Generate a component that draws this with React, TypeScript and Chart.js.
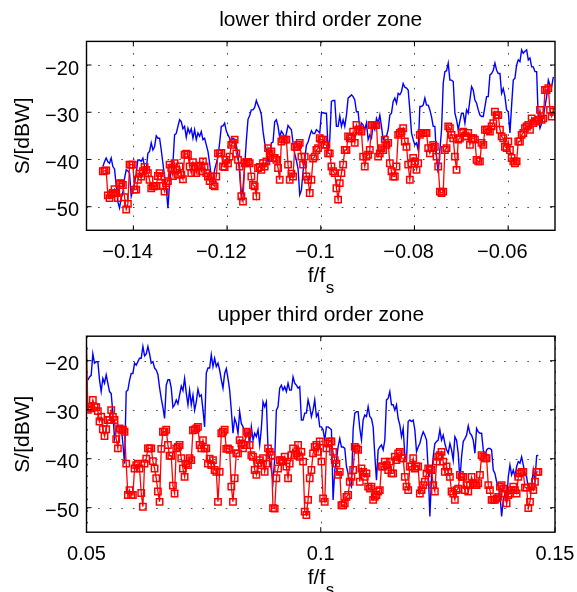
import React, { useEffect, useRef } from 'react';
import { Chart, registerables } from 'chart.js';

Chart.register(...registerables);

// ---------------- data ----------------
const binWidth = 5 / 14040; // spacing of frequency bins (f/fs)

const yRange = [-55, -15];
const yTickValues = [-50, -40, -30, -20];

const lowerTitle = 'lower third order zone';
const lowerXRange = [-0.15, -0.05];
const lowerXTickValues = [-0.14, -0.12, -0.1, -0.08, -0.06];

const upperTitle = 'upper third order zone';
const upperXRange = [0.05, 0.15];
const upperXTickValues = [0.05, 0.1, 0.15];

const yLabel = 'S/[dBW]';

// lower zone, blue trace
const lowerBlueStart = -0.14651;
const lowerBlue = [
  -41.5, -40.5, -39.7, -40.5, -40.8, -39.7, -41.5, -42.0, -45.5, -49.0,
  -50.3, -48.2, -47.0, -44.0, -42.2, -42.4, -42.9, -47.8, -46.4, -45.0,
  -43.0, -40.1, -40.1, -40.4, -39.7, -41.5, -42.2, -38.7, -38.3, -36.5,
  -38.0, -37.3, -35.0, -35.5, -35.5, -38.0, -40.8, -43.6, -46.1, -50.3,
  -45.0, -42.2, -40.8, -34.8, -34.5, -33.0, -31.6, -32.0, -33.5, -33.0,
  -35.3, -33.4, -34.4, -33.5, -35.5, -33.7, -35.8, -34.4, -35.1, -34.1,
  -35.8, -35.5, -36.9, -38.3, -40.8, -43.6, -44.6, -42.2, -40.8, -39.4,
  -36.5, -33.0, -32.9, -32.3, -34.0, -34.8, -35.5, -36.2, -35.5, -35.8,
  -37.0, -39.0, -43.0, -48.0, -46.0, -41.5, -36.0, -31.5, -30.7, -29.5,
  -29.5, -29.0, -27.5, -28.5, -29.3, -30.5, -34.0, -36.5, -38.0, -40.5,
  -39.0, -36.5, -36.3, -32.0, -31.6, -33.0, -35.3, -34.0, -34.5, -35.5,
  -34.5, -32.8, -33.3, -33.7, -36.5, -38.8, -40.2, -42.0, -47.5, -46.5,
  -42.5, -40.0, -37.0, -36.3, -35.0, -33.9, -34.5, -34.5, -33.7, -34.0,
  -34.4,
  -30.1, -30.1, -30.2, -30.2, -38.0, -35.8, -27.7, -27.5, -27.5, -33.0,
  -33.0, -30.8, -33.0, -31.6, -33.0, -30.6, -27.0, -26.7, -26.3, -26.7,
  -27.4, -29.9, -29.9, -33.7, -32.3, -32.7, -33.7, -32.3, -35.8, -34.8,
  -35.5, -32.7, -33.7, -31.3, -32.3, -30.6, -33.0, -35.8, -35.1, -35.1,
  -33.7, -30.6, -30.2, -27.7, -27.0, -28.1, -26.0, -26.3, -25.6, -23.9,
  -24.7, -24.9, -25.3, -29.5, -34.4, -35.8, -36.9, -36.5, -38.0, -28.8,
  -28.8, -28.5, -27.0, -28.5, -28.5, -29.5, -31.0, -33.0, -33.0, -39.7,
  -42.9, -38.0, -33.7, -23.9, -21.4, -21.2, -19.6, -23.2, -23.2, -23.5,
  -30.2, -31.6, -33.7, -31.9, -30.2, -30.2, -32.3, -29.5, -30.2, -27.4,
  -24.6, -25.3, -27.4, -28.1, -29.5, -30.6, -30.9, -30.9, -28.8, -26.7,
  -26.7, -22.1, -21.8, -21.1, -19.6, -21.1, -21.8, -21.8, -26.0, -25.0,
  -26.7, -29.5, -29.9, -34.4, -28.5, -23.2, -22.8, -20.0, -18.9, -19.3,
  -16.8, -17.5, -17.1, -16.8, -18.9, -18.5, -20.4, -20.4, -21.4, -21.4,
  -31.6, -33.4, -32.3, -30.9, -28.8, -26.7, -23.2, -24.3, -24.6, -22.5,
];

// lower zone, red trace with square markers
const lowerRedStart = -0.14651;
const lowerRed = [
  -42.5, -42.4, -42.3, -47.6, -48.2, -47.4, -47.1, -46.3, -47.1, -48.2,
  -45.1, -45.0, -45.4, -48.0, -50.6, -49.4, -41.1, -41.1, -41.1, -46.4,
  -46.4, -44.3, -43.0, -43.6, -42.5, -41.6, -42.2, -42.9, -44.3, -46.1,
  -45.7, -45.7, -45.6, -43.5, -42.9, -43.6, -45.6, -46.8, -45.0, -44.6,
  -41.1, -41.8, -43.5, -40.8, -42.2, -43.2, -41.5, -43.2, -44.2, -39.0,
  -38.8, -39.0, -41.5, -42.9, -40.6, -41.5, -42.9, -41.5, -41.3, -42.5,
  -40.4, -41.5, -42.9, -43.6, -44.6, -43.6, -45.4, -45.7, -43.6, -38.7,
  -38.7, -38.6, -41.5, -41.6, -40.1, -40.8, -39.4, -36.9, -36.5, -35.8,
  -38.7, -40.1, -41.5, -47.8, -48.9, -40.8, -40.5, -40.5, -40.8, -43.6,
  -45.4, -45.7, -47.8, -41.8, -41.6, -42.2, -40.8, -41.5, -40.4, -37.6,
  -38.7, -38.3, -39.7, -39.7, -40.1, -41.8, -44.3, -36.2, -35.7, -35.8,
  -35.8, -41.1, -44.3, -43.0, -43.6, -37.3, -37.4, -36.9, -36.5, -39.4,
  -41.1, -39.4, -43.6, -44.3, -47.1, -44.3, -39.8, -39.4, -38.0, -37.6,
  -35.5,
  -35.8, -35.8, -36.9, -36.9, -38.7, -38.7, -41.5, -42.5, -42.9, -46.1,
  -48.5, -45.0, -42.9, -41.1, -38.0, -38.0, -35.1, -35.5, -35.5, -34.1,
  -36.5, -32.7, -33.7, -33.7, -34.1, -39.4, -41.5, -39.4, -39.0, -38.0,
  -32.7, -32.7, -32.7, -32.7, -39.4, -38.7, -37.6, -38.0, -35.8, -36.9,
  -36.5, -40.8, -42.5, -43.6, -43.6, -41.5, -34.8, -34.4, -34.1, -33.4,
  -36.2, -37.3, -41.1, -44.3, -40.8, -39.7, -40.4, -42.2, -40.8, -34.8,
  -34.4, -34.4, -34.4, -34.4, -37.6, -38.7, -37.6, -36.9, -37.3, -39.4,
  -41.5, -46.8, -47.1, -46.8, -38.0, -37.6, -33.0, -33.4, -34.8, -35.5,
  -39.4, -42.2, -35.8, -35.5, -34.4, -34.1, -35.1, -35.1, -34.4, -36.9,
  -35.5, -35.5, -35.8, -40.1, -40.4, -40.4, -36.5, -36.9, -33.7, -33.7,
  -33.7, -34.1, -33.0, -32.3, -29.9, -30.6, -30.6, -33.7, -35.1, -35.5,
  -37.3, -37.6, -36.2, -38.0, -39.7, -40.4, -40.8, -40.4, -36.2, -36.2,
  -34.8, -34.4, -33.4, -33.0, -32.7, -33.7, -31.3, -32.3, -31.9, -31.9,
  -31.6, -29.5, -31.6, -31.3, -25.3, -25.3, -24.9, -29.5, -30.9, -29.9,
];

// upper zone, blue trace
const upperBlueStart = 0.050285;
const upperBlue = [
  -24.0, -23.3, -23.0, -18.6, -20.5, -20.2, -20.2, -23.9, -26.3, -23.6,
  -24.6, -22.9, -24.6, -26.3, -26.7, -30.7, -35.9, -34.1, -33.1, -33.5,
  -33.5, -36.9, -41.0, -26.3, -26.0, -24.0, -22.6, -22.6, -20.5, -20.9,
  -20.2, -19.5, -19.5, -17.1, -19.0, -18.6, -17.1, -18.6, -20.5, -20.2,
  -21.5, -21.9, -22.8, -25.5, -27.7, -29.5, -31.8, -25.0, -23.9, -23.9,
  -25.6, -29.5, -29.0, -28.0, -28.8, -27.0, -25.2, -26.1, -23.6, -26.6,
  -29.0, -26.0, -29.0, -27.0, -30.1, -28.4, -25.8, -27.3, -27.0, -30.0,
  -33.5, -22.5, -21.5, -21.5, -18.8, -21.2, -19.5, -21.2, -20.5, -21.9,
  -23.9, -25.6, -22.6, -21.6, -23.6, -26.0, -30.1, -34.8, -31.8, -32.8,
  -34.8, -30.4, -32.8, -33.5, -34.5, -35.5, -34.5, -36.9, -33.5, -36.2,
  -34.8, -35.5, -34.1, -37.2, -33.8, -28.4, -29.4, -28.4, -37.9, -40.3,
  -42.3, -44.7, -40.0, -30.1, -29.4, -25.6, -25.0, -26.0, -25.3, -26.3,
  -24.6, -26.0, -26.0, -23.3, -24.6, -25.0, -25.6, -25.3, -32.1, -32.1,
  -30.7, -30.7, -28.0, -29.4, -31.4, -30.1, -28.0, -31.4, -30.7, -33.5,
  -33.5, -34.1, -36.2, -33.5, -33.5, -33.8, -34.1, -48.4, -42.3, -40.3,
  -37.6, -35.9, -37.6, -37.6, -37.9, -41.6, -43.0, -45.0, -45.7, -34.1,
  -30.7, -30.4, -30.4, -33.8, -36.2, -32.1, -31.1, -31.4, -29.4, -31.4,
  -31.8, -33.5, -39.3, -44.4, -38.2, -37.6, -37.2, -38.2, -36.2, -28.0,
  -27.7, -26.3, -29.0, -29.0, -30.1, -29.0, -31.8, -33.1, -35.5, -33.8,
  -39.3, -40.3, -32.4, -32.1, -32.4, -32.1, -34.1, -38.6, -37.6, -36.9,
  -35.5, -34.5, -35.2, -36.2, -42.3, -51.8, -43.7, -39.6, -36.9, -36.5,
  -36.2, -34.1, -36.2, -35.2, -36.9, -38.2, -38.9, -36.9, -38.2, -40.3,
  -35.5, -36.2, -38.9, -44.4, -39.6, -36.5, -35.9, -35.2, -33.3, -34.8,
  -35.2, -36.2, -38.9, -33.8, -34.5, -34.8, -34.8, -38.2, -39.6, -38.2,
  -37.9, -37.9, -38.2, -42.3, -43.0, -44.7, -45.7, -47.1, -51.8, -48.4,
  -47.1, -49.1, -43.7, -41.3, -43.3, -42.3, -43.7, -41.6, -40.6, -40.9,
  -39.6, -41.3, -43.0, -43.7, -46.0, -46.4, -45.7, -42.3, -44.4, -39.4,
  -39.3,
];

// upper zone, red trace with square markers (first sample sits on the band edge)
const upperRedEdgeFreq = 0.05;
const upperRedEdgeValue = -17.0;
const upperRedStart = 0.050285;
const upperRed = [
  -30.0, -29.4, -29.7, -28.0, -29.4, -29.5, -30.3, -32.4, -31.4, -34.0,
  -35.4, -34.0, -32.1, -32.1, -30.1, -31.5, -32.1, -36.0, -37.9, -33.8,
  -34.1, -34.1, -34.5, -41.0, -47.4, -46.4, -47.4, -47.4, -42.0, -41.3,
  -41.0, -42.0, -47.0, -49.8, -41.0, -40.0, -37.9, -37.9, -37.9, -40.5,
  -42.0, -44.0, -46.7, -48.8, -38.0, -34.5, -34.5, -34.1, -37.2, -39.4,
  -39.4, -45.5, -47.1, -37.9, -37.6, -37.2, -39.9, -42.0, -43.7, -41.0,
  -41.3, -39.9, -40.3, -34.2, -34.1, -33.8, -33.5, -37.2, -37.9, -36.2,
  -37.9, -37.9, -41.0, -40.0, -41.3, -40.3, -42.3, -42.7, -48.8, -42.7,
  -34.8, -34.5, -34.1, -38.0, -37.9, -38.2, -45.7, -48.8, -44.0, -38.9,
  -38.9, -36.2, -36.9, -37.9, -37.2, -34.5, -34.8, -37.2, -39.3, -39.6,
  -42.3, -43.3, -40.9, -40.3, -41.3, -39.9, -42.7, -41.0, -37.9, -38.6,
  -39.3, -50.1, -50.2, -44.0, -42.0, -40.3, -40.3, -40.6, -39.6, -41.6,
  -44.0, -41.0, -39.3, -37.9, -39.3, -38.9, -37.2, -39.6, -38.6, -40.6,
  -50.8, -51.5, -48.4, -44.0, -42.3, -38.9, -37.6, -37.2, -38.6, -36.5,
  -40.6, -48.1, -48.8, -37.9, -36.9, -36.5, -36.5, -38.6, -40.3, -41.0,
  -43.3, -42.7, -49.5, -49.5, -49.1, -47.8, -47.4, -44.7, -43.7, -42.3,
  -37.6, -37.9, -38.2, -44.7, -42.0, -42.7, -43.7, -43.0, -45.7, -46.1,
  -45.7, -48.4, -47.8, -47.4, -46.7, -46.4, -41.6, -41.6, -40.6, -41.3,
  -42.3, -40.6, -43.0, -43.0, -39.6, -40.3, -38.9, -38.6, -39.9, -39.9,
  -43.7, -45.7, -46.4, -41.6, -41.6, -39.9, -42.0, -41.6, -41.6, -47.1,
  -46.4, -45.4, -44.7, -43.0, -42.0, -42.3, -42.3, -45.4, -46.7, -40.6,
  -39.6, -39.3, -38.6, -40.6, -42.7, -41.6, -42.7, -43.7, -46.7, -47.1,
  -48.4, -46.4, -46.1, -43.3, -43.7, -43.7, -46.4, -45.4, -46.7, -45.4,
  -43.7, -45.0, -45.4, -45.4, -45.0, -43.3, -39.3, -39.6, -39.9, -39.9,
  -45.4, -46.4, -48.4, -48.4, -48.4, -48.1, -47.8, -45.7, -45.4, -46.1,
  -47.1, -49.1, -47.4, -47.1, -46.4, -45.7, -46.4, -47.1, -43.7, -43.0,
  -42.7, -42.7, -45.9, -45.9, -50.1, -48.8, -45.7, -46.4, -44.7, -42.7,
  -42.7,
];

// ---------------- rendering ----------------
const W = 577;
const PANEL_H = 296;
const PLOT_LEFT = 86.5;
const PLOT_RIGHT = 555;
const FONT = '"Liberation Sans", Arial, Helvetica, sans-serif';

type Pt = { x: number; y: number };

function toPoints(start: number, values: number[]): Pt[] {
  return values.map((v, i) => ({ x: start + i * binWidth, y: v }));
}

function fmt(v: number): string {
  const s = String(Math.round(v * 1000) / 1000);
  return s.replace('-', '\u2212');
}

interface PanelSpec {
  title: string;
  xRange: number[];
  xTicks: number[];
  blue: Pt[];
  red: Pt[];
  redLead: boolean;
  plotTop: number;
  plotBottom: number;
}

function makeAxesPlugin(p: PanelSpec) {
  return {
    id: 'matlabAxes',
    beforeDatasetsDraw(chart: any) {
      const { ctx, chartArea: a, scales } = chart;
      const xs = scales.x;
      const ys = scales.y;
      ctx.save();
      ctx.strokeStyle = 'rgba(0,0,0,0.72)';
      ctx.lineWidth = 1;
      ctx.setLineDash([1.6, 10]);
      p.xTicks.forEach((v) => {
        const px = Math.round(xs.getPixelForValue(v)) + 0.5;
        ctx.beginPath();
        ctx.moveTo(px, a.top);
        ctx.lineTo(px, a.bottom);
        ctx.stroke();
      });
      yTickValues.forEach((v) => {
        const py = Math.round(ys.getPixelForValue(v)) + 0.5;
        ctx.beginPath();
        ctx.moveTo(a.left, py);
        ctx.lineTo(a.right, py);
        ctx.stroke();
      });
      ctx.restore();
    },
    afterDatasetsDraw(chart: any) {
      const { ctx, chartArea: a, scales } = chart;
      const xs = scales.x;
      const ys = scales.y;
      ctx.save();
      ctx.setLineDash([]);
      ctx.strokeStyle = '#000';
      // box
      ctx.lineWidth = 1.4;
      ctx.strokeRect(a.left, a.top, a.right - a.left, a.bottom - a.top);
      // inward ticks
      ctx.lineWidth = 1;
      const tl = 5;
      p.xTicks.forEach((v) => {
        const px = xs.getPixelForValue(v);
        ctx.beginPath();
        ctx.moveTo(px, a.bottom);
        ctx.lineTo(px, a.bottom - tl);
        ctx.moveTo(px, a.top);
        ctx.lineTo(px, a.top + tl);
        ctx.stroke();
      });
      yTickValues.forEach((v) => {
        const py = ys.getPixelForValue(v);
        ctx.beginPath();
        ctx.moveTo(a.left, py);
        ctx.lineTo(a.left + tl, py);
        ctx.moveTo(a.right, py);
        ctx.lineTo(a.right - tl, py);
        ctx.stroke();
      });
      // tick labels
      ctx.fillStyle = '#000';
      ctx.font = `20px ${FONT}`;
      ctx.textBaseline = 'alphabetic';
      const minusW = ctx.measureText('\u2212').width;
      ctx.textAlign = 'center';
      p.xTicks.forEach((v) => {
        const px = xs.getPixelForValue(v);
        const off = v < 0 ? minusW / 2 : 0;
        ctx.fillText(fmt(v), px - off, a.bottom + 28);
      });
      ctx.textAlign = 'right';
      yTickValues.forEach((v) => {
        const py = ys.getPixelForValue(v);
        ctx.fillText(fmt(v), a.left - 7.5, py + 9.5);
      });
      // title
      ctx.font = `21px ${FONT}`;
      ctx.textAlign = 'center';
      const cx = (a.left + a.right) / 2;
      ctx.fillText(p.title, cx, a.top - 15.4);
      // x label f/f_s
      ctx.font = `21px ${FONT}`;
      const main = 'f/f';
      const mw = ctx.measureText(main).width;
      ctx.font = `17px ${FONT}`;
      const sw = ctx.measureText('s').width;
      const startX = cx - (mw + sw) / 2;
      ctx.textAlign = 'left';
      ctx.font = `21px ${FONT}`;
      ctx.fillText(main, startX, a.bottom + 52);
      ctx.font = `17px ${FONT}`;
      ctx.fillText('s', startX + mw + 0.5, a.bottom + 63);
      // y label
      ctx.save();
      ctx.font = `21px ${FONT}`;
      ctx.textAlign = 'center';
      ctx.translate(29, (a.top + a.bottom) / 2);
      ctx.rotate(-Math.PI / 2);
      ctx.fillText(yLabel, 0, 0);
      ctx.restore();
      ctx.restore();
    },
  };
}

function Panel({ spec }: { spec: PanelSpec }) {
  const ref = useRef<HTMLCanvasElement | null>(null);
  useEffect(() => {
    if (!ref.current) return;
    const chart = new Chart(ref.current, {
      type: 'scatter',
      data: {
        datasets: [
          {
            data: spec.red,
            showLine: true,
            borderColor: '#ff0000',
            borderWidth: 1.3,
            pointStyle: 'rect',
            pointRadius: (c: any) => (spec.redLead && c.dataIndex === 0 ? 0 : 4.5),
            pointBorderColor: '#ff0000',
            pointBackgroundColor: 'rgba(255,255,255,0)',
            pointBorderWidth: 1.5,
            tension: 0,
          } as any,
          {
            data: spec.blue,
            showLine: true,
            borderColor: '#0000ff',
            borderWidth: 1.4,
            pointRadius: 0,
            tension: 0,
          } as any,
        ],
      },
      options: {
        responsive: false,
        animation: false,
        events: [],
        layout: {
          padding: { left: 0, right: W - PLOT_RIGHT, top: spec.plotTop, bottom: 0 },
        },
        plugins: {
          legend: { display: false },
          tooltip: { enabled: false },
          title: { display: false },
        },
        scales: {
          x: {
            type: 'linear',
            min: spec.xRange[0],
            max: spec.xRange[1],
            grid: { display: false, drawTicks: false },
            border: { display: false },
            ticks: { display: false },
            afterFit: (s: any) => {
              s.height = PANEL_H - spec.plotBottom;
            },
          },
          y: {
            type: 'linear',
            min: yRange[0],
            max: yRange[1],
            grid: { display: false, drawTicks: false },
            border: { display: false },
            ticks: { display: false },
            afterFit: (s: any) => {
              s.width = PLOT_LEFT;
            },
          },
        },
      } as any,
      plugins: [makeAxesPlugin(spec)],
    });
    return () => chart.destroy();
  }, [spec]);
  return <canvas ref={ref} width={W} height={PANEL_H} style={{ display: 'block', width: W, height: PANEL_H }} />;
}

const lowerSpec: PanelSpec = {
  title: lowerTitle,
  xRange: lowerXRange,
  xTicks: lowerXTickValues,
  blue: toPoints(lowerBlueStart, lowerBlue),
  red: toPoints(lowerRedStart, lowerRed),
  redLead: false,
  plotTop: 41.4,
  plotBottom: 230.3,
};

const upperSpec: PanelSpec = {
  title: upperTitle,
  xRange: upperXRange,
  xTicks: upperXTickValues,
  blue: toPoints(upperBlueStart, upperBlue),
  red: [{ x: upperRedEdgeFreq, y: upperRedEdgeValue }, ...toPoints(upperRedStart, upperRed)],
  redLead: true,
  plotTop: 40.2,
  plotBottom: 236.2,
};

export default function App() {
  return (
    <div style={{ position: 'absolute', left: 0, top: 0, width: W, height: 592, background: '#fff', overflow: 'hidden' }}>
      <Panel spec={lowerSpec} />
      <Panel spec={upperSpec} />
    </div>
  );
}
